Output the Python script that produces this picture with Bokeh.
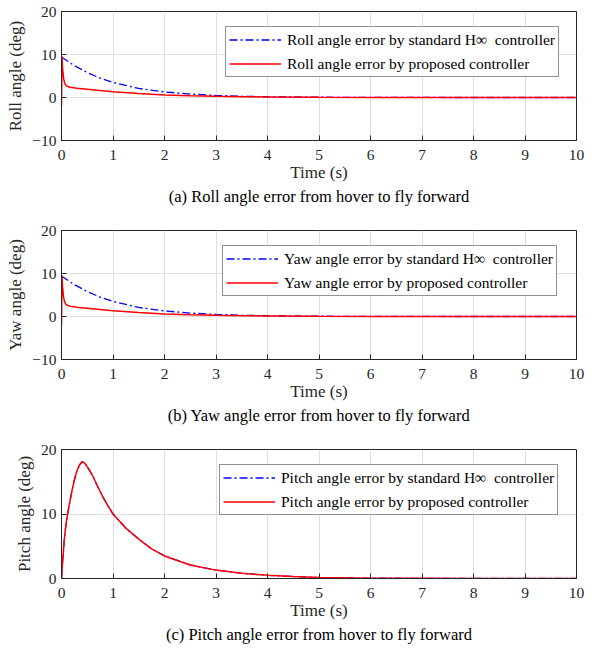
from bokeh.plotting import figure
from bokeh.layouts import column
from bokeh.models import Title, Legend, LegendItem, FixedTicker, Range1d
from bokeh.embed import file_html
from bokeh.resources import INLINE

# ---- data ----
t_std = [0, 0.1, 0.25, 0.5, 0.75, 1, 1.5, 2, 2.5, 3, 3.5, 4, 5, 6, 7, 8, 9, 10]
roll_std = [9.4, 8.6, 7.4, 5.8, 4.5, 3.5, 2.1, 1.3, 0.8, 0.47, 0.29, 0.17, 0.06, 0.02, 0.01, 0.0, 0.0, 0.0]
yaw_std = [9.4, 8.6, 7.4, 5.8, 4.5, 3.5, 2.1, 1.3, 0.8, 0.47, 0.29, 0.17, 0.06, 0.02, 0.01, 0.0, 0.0, 0.0]

t_prop = [0, 0.005, 0.01, 0.02, 0.04, 0.06, 0.08, 0.1, 0.15, 0.2, 0.3, 0.5, 0.75, 1, 1.5, 2, 2.5, 3, 3.5, 4, 5, 6, 7, 8, 9, 10]
roll_prop = [-2.0, 4.0, 9.5, 7.0, 4.5, 3.4, 2.9, 2.7, 2.45, 2.3, 2.15, 1.9, 1.6, 1.35, 0.92, 0.58, 0.4, 0.27, 0.18, 0.12, 0.05, 0.02, 0.01, 0.0, 0.0, 0.0]
yaw_prop = [-2.0, 4.0, 9.5, 7.0, 4.5, 3.4, 2.9, 2.7, 2.45, 2.3, 2.15, 1.9, 1.6, 1.35, 0.92, 0.58, 0.4, 0.27, 0.18, 0.12, 0.05, 0.02, 0.01, 0.0, 0.0, 0.0]

t_pitch = [0, 0.025, 0.05, 0.075, 0.1, 0.125, 0.15, 0.2, 0.25, 0.3, 0.35, 0.4, 0.45, 0.5, 0.55, 0.6, 0.7, 0.8,
           0.9, 1.0, 1.25, 1.5, 1.75, 2, 2.5, 3, 3.5, 4, 4.5, 5, 6, 7, 8, 9, 10]
pitch_std = [0, 3.0, 5.6, 7.6, 9.1, 10.3, 11.4, 13.5, 15.3, 16.7, 17.6, 18.1, 17.9, 17.3, 16.7, 16.0, 14.3, 12.7,
             11.3, 10.0, 7.8, 6.1, 4.6, 3.5, 2.1, 1.3, 0.8, 0.5, 0.3, 0.15, 0.05, 0.02, 0.0, 0.0, 0.0]
pitch_prop = [0, 3.0, 5.6, 7.6, 9.1, 10.3, 11.4, 13.5, 15.3, 16.7, 17.6, 18.1, 17.9, 17.3, 16.7, 16.0, 14.3, 12.7,
              11.3, 10.0, 7.8, 6.1, 4.6, 3.5, 2.1, 1.3, 0.8, 0.5, 0.3, 0.15, 0.05, 0.02, 0.0, 0.0, 0.0]

x_ticks = [0, 1, 2, 3, 4, 5, 6, 7, 8, 9, 10]

FONT = "Liberation Serif"
AX = "#262626"


def make_panel(ylabel, y_ticks, ylim, std_y, prop_y, t_s, t_p, leg_std, leg_prop, caption, height, bottom, legend_left):
    p = figure(width=592, height=height, output_backend="svg", toolbar_location=None,
               x_range=Range1d(0, 10), y_range=Range1d(*ylim),
               min_border_left=61, min_border_right=16, min_border_top=11, min_border_bottom=bottom)
    p.outline_line_color = AX
    p.outline_line_width = 1
    p.background_fill_color = "white"
    p.border_fill_color = "white"

    for ax in (p.xaxis[0], p.yaxis[0]):
        ax.major_tick_in = 5
        ax.major_tick_out = 0
        ax.minor_tick_in = 0
        ax.minor_tick_out = 0
        ax.axis_line_color = AX
        ax.major_tick_line_color = AX
        ax.major_label_text_font = FONT
        ax.major_label_text_font_size = "15.5px"
        ax.major_label_text_color = AX
        ax.axis_label_text_font = FONT
        ax.axis_label_text_font_size = "17px"
        ax.axis_label_text_font_style = "normal"
        ax.axis_label_text_color = AX
        ax.axis_label_text_line_height = 1.0
    p.xaxis.ticker = FixedTicker(ticks=x_ticks)
    p.yaxis.ticker = FixedTicker(ticks=y_ticks)
    p.xaxis.axis_label = "Time (s)"
    p.yaxis.axis_label = ylabel
    p.xaxis.major_label_standoff = 9
    p.xaxis.axis_label_standoff = 0
    p.yaxis.major_label_standoff = 5
    p.yaxis.axis_label_standoff = 4

    p.xgrid.grid_line_color = "#dfdfdf"
    p.ygrid.grid_line_color = "#dfdfdf"
    p.xgrid.grid_line_width = 1
    p.ygrid.grid_line_width = 1

    r1 = p.line(t_s, std_y, line_color="#0000ff", line_width=1.3, line_dash="8 3 2 3")
    r2 = p.line(t_p, prop_y, line_color="#ff0000", line_width=1.5)

    legend = Legend(items=[LegendItem(label=leg_std, renderers=[r1]),
                           LegendItem(label=leg_prop, renderers=[r2])],
                    location=(legend_left, 63))
    legend.border_line_color = "#262626"
    legend.border_line_width = 1
    legend.background_fill_color = "white"
    legend.background_fill_alpha = 1
    legend.label_text_font = FONT
    legend.label_text_font_size = "15.5px"
    legend.label_text_color = "black"
    legend.glyph_width = 52
    legend.glyph_height = 19
    legend.label_height = 19
    legend.label_standoff = 6
    legend.spacing = 5
    legend.padding = 3
    legend.margin = 0
    p.add_layout(legend, "center")

    cap = Title(text=caption, align="center", text_font=FONT, text_font_size="16.5px",
                text_font_style="normal", text_color="black", standoff=0, text_line_height=1.0)
    p.add_layout(cap, "below")
    return p


p1 = make_panel("Roll angle (deg)", [-10, 0, 10, 20], (-10, 20), roll_std, roll_prop, t_std, t_prop,
                "Roll angle error by standard H\u221e  controller", "Roll angle error by proposed controller",
                "(a) Roll angle error from hover to fly forward", 219, 79, 164)
p2 = make_panel("Yaw angle (deg)", [-10, 0, 10, 20], (-10, 20), yaw_std, yaw_prop, t_std, t_prop,
                "Yaw angle error by standard H\u221e  controller", "Yaw angle error by proposed controller",
                "(b) Yaw angle error from hover to fly forward", 219, 79, 161)
p3 = make_panel("Pitch angle (deg)", [0, 10, 20], (0, 20), pitch_std, pitch_prop, t_pitch, t_pitch,
                "Pitch angle error by standard H\u221e  controller", "Pitch angle error by proposed controller",
                "(c) Pitch angle error from hover to fly forward", 215, 75, 158)

layout = column(p1, p2, p3, spacing=0)
open("out.html", "w").write(file_html(layout, INLINE))
